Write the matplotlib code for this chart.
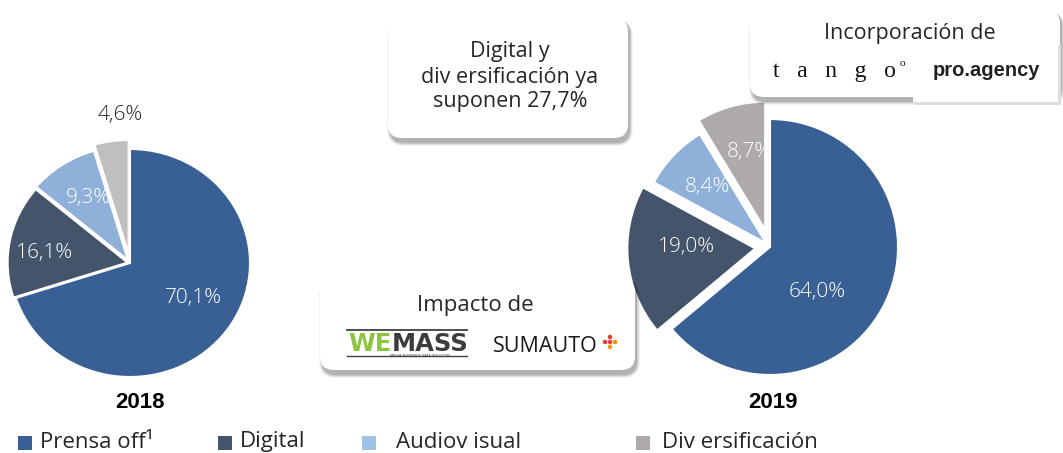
import matplotlib
matplotlib.use("Agg")
import matplotlib.pyplot as plt
from matplotlib.patches import FancyBboxPatch, Rectangle

# data
categories = ["Prensa off¹", "Digital", "Audiov isual", "Div ersificación"]
years = ["2018", "2019"]
share_2018 = [70.1, 16.1, 9.3, 4.6]
share_2019 = [64.0, 19.0, 8.4, 8.7]

colors_2018 = ["#386094", "#44546A", "#8FB1D9", "#BFBFBF"]
colors_2019 = ["#386094", "#44546A", "#8FB1D9", "#AEAAAA"]
legend_colors = ["#386094", "#44546A", "#9DC3E6", "#AEAAAA"]

W, H = 1063, 453
FONT = "Open Sans"
TXT = "#262626"

fig = plt.figure(figsize=(W / 100, H / 100), dpi=100)


def add_pie(values, colors, explode, cx, cy, rx, ry, label_xy, label_colors):
    # axes sized in pixels so the pie lands where it sits in the slide
    lim = 1.35
    ax = fig.add_axes([(cx - lim * rx) / W, (H - cy - lim * ry) / H,
                       2 * lim * rx / W, 2 * lim * ry / H])
    ax.pie(values, colors=colors, explode=explode, startangle=90,
           counterclock=False,
           wedgeprops=dict(edgecolor="white", linewidth=1.5))
    ax.set_aspect("auto")
    ax.set_xlim(-lim, lim)
    ax.set_ylim(-lim, lim)
    for v, (dx, dy), c in zip(values, label_xy, label_colors):
        ax.text(dx, dy, f"{v:.1f}%".replace(".", ","), ha="center", va="center",
                fontsize=15, color=c, family=FONT, fontweight="light")
    return ax


add_pie(share_2018, colors_2018, [0, 0.02, 0.03, 0.08], 130, 263, 120, 114,
        [(0.53, -0.31), (-0.71, 0.09), (-0.35, 0.57), (-0.08, 1.30)],
        ["white", "white", "white", "#262626"])
add_pie(share_2019, colors_2019, [0, 0.115, 0.04, 0.14], 770, 247, 128, 128,
        [(0.37, -0.35), (-0.65, 0.0), (-0.49, 0.47), (-0.16, 0.74)],
        ["white", "white", "white", "white"])

# overlay in pixel coordinates for boxes, logos and legend
ov = fig.add_axes([0, 0, 1, 1])
ov.set_xlim(0, W)
ov.set_ylim(H, 0)
ov.axis("off")
ov.patch.set_alpha(0)


def shadow_box(x0, y0, x1, y1, r=14):
    # soft drop shadow, mostly below the box
    for i, a in enumerate([0.05, 0.07, 0.09, 0.12]):
        g = 3 - i
        ov.add_patch(FancyBboxPatch((x0 + 2 - g, y0 + 2), x1 - x0 + 2 * g, y1 - y0 + 3 + g,
                                    boxstyle=f"round,pad=0,rounding_size={r + g}",
                                    fc="black", ec="none", alpha=a))
    ov.add_patch(FancyBboxPatch((x0, y0), x1 - x0, y1 - y0,
                                boxstyle=f"round,pad=0,rounding_size={r}",
                                fc="white", ec="none"))


# box: digital + diversificacion
shadow_box(388, 18, 628, 138)
ov.text(510, 77, "Digital y\ndiv ersificación ya\nsuponen 27,7%", ha="center", va="center",
        fontsize=15.5, color=TXT, family=FONT, linespacing=1.25)

# box: incorporacion
shadow_box(750, 10, 1060, 97)
ov.text(910, 33, "Incorporación de", ha="center", va="center", fontsize=15.5,
        color=TXT, family=FONT)
ov.add_patch(Rectangle((914, 45), 147, 60, fc="#DDDDDD", ec="none"))
ov.add_patch(Rectangle((913, 42), 145, 60, fc="white", ec="none"))
ov.text(834, 71, "t   a   n   g   o", ha="center", va="center", fontsize=17,
        color="#111111", family="Liberation Serif")
ov.text(902, 63, "o", ha="center", va="center", fontsize=8,
        color="#111111", family="Liberation Serif")
ov.text(986, 70, "pro.agency", ha="center", va="center", fontsize=14.5,
        fontweight="bold", color="#222222", family="Liberation Sans")

# box: impacto
shadow_box(320, 278, 635, 370)
ov.text(475, 305, "Impacto de", ha="center", va="center", fontsize=16,
        color=TXT, family=FONT)
ov.plot([347, 467], [330, 330], color="#404040", lw=1.3)
ov.plot([347, 467], [356, 356], color="#404040", lw=1.0)
ov.text(392, 344, "WE", ha="right", va="center", fontsize=17.5, fontweight="heavy",
        color="#8CC63F", family="DejaVu Sans")
ov.text(392, 344, "MASS", ha="left", va="center", fontsize=17.5, fontweight="heavy",
        color="#3C3C3C", family="DejaVu Sans")
ov.text(420, 356, "MEDIA AUDIENCE SAFE SOLUTION", ha="center", va="center",
        fontsize=2.5, color="#3C3C3C", family="DejaVu Sans")
ov.text(545, 346, "SUMAUTO", ha="center", va="center", fontsize=15.5,
        color="#1A1A1A", family=FONT)
ov.scatter([610, 605, 610, 615, 610], [337, 342, 342, 342, 347], s=5,
           c=["#E53935", "#E53935", "#E53935", "#F39200", "#F39200"], zorder=5)

# year labels
for yr, x in zip(years, [140, 773]):
    ov.text(x, 403, yr, ha="center", va="center", fontsize=16, fontweight="bold",
            color="black", family="Liberation Sans")

# legend
legend_x = [18, 218, 362, 636]
legend_gap = [22, 22, 34, 26]
for cat, col, x, gap in zip(categories, legend_colors, legend_x, legend_gap):
    ov.add_patch(Rectangle((x, 436), 14, 14, fc=col, ec="none"))
    ov.text(x + gap, 442, cat, ha="left", va="center", fontsize=16, color=TXT, family=FONT)

fig.savefig("out.png", dpi=100)
